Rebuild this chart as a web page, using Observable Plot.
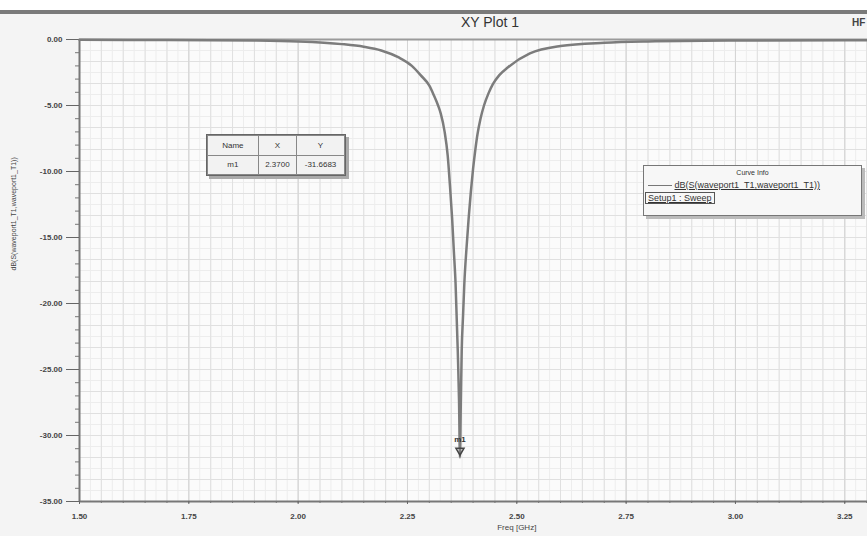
<!DOCTYPE html>
<html>
<head>
<meta charset="utf-8">
<script src="https://cdn.jsdelivr.net/npm/d3@7"></script>
<script src="https://cdn.jsdelivr.net/npm/@observablehq/plot@0.6"></script>
<style>
  html, body { margin: 0; padding: 0; background: #ffffff; }
  #wrap { position: relative; width: 867px; height: 536px; overflow: hidden; background: #f4f4f4; font-family: "Liberation Sans", Arial, sans-serif; }
  #topline { position: absolute; left: 0; top: 0; width: 867px; height: 10px; background: #ffffff; border-bottom: 4px solid #7a7a7a; }
  #title { position: absolute; left: 440px; top: 14px; width: 100px; text-align: center; font-size: 14px; color: #333; }
  #hf { position: absolute; left: 852px; top: 17px; font-size: 10px; font-weight: bold; color: #444; }
  .tbl { position: absolute; border: 1.5px solid #666; background: #f2f2f2; box-shadow: 3px 3px 0 #aaa; font-size: 8px; color: #333; }
  .tbl table { border-collapse: collapse; width: 100%; height: 100%; }
  .tbl td { border: 1px solid #888; text-align: center; padding: 0; }
  #plot { position: absolute; left: 0; top: 0; }
  #curve { position: absolute; left: 643px; top: 165px; width: 217px; height: 49px; border: 1.5px solid #777; background: #f7f7f7; box-shadow: 3px 3px 0 #bbb; font-size: 9px; color: #333; }
</style>
</head>
<body>
<div id="wrap">
  <div id="topline"></div>
  <div id="title">XY Plot 1</div>
  <div id="hf">HF</div>
  <div id="plot"></div>
  <div class="tbl" style="left:206px;top:134px;width:138px;height:40px;">
    <table>
      <tr><td style="width:37%">Name</td><td style="width:28%">X</td><td>Y</td></tr>
      <tr><td>m1</td><td>2.3700</td><td>-31.6683</td></tr>
    </table>
  </div>
  <div id="curve">
    <div style="text-align:center;margin-top:3px;font-size:7px;">Curve Info</div>
    <div style="margin-top:4px;margin-left:4px;white-space:nowrap;"><span style="display:inline-block;width:24px;border-top:1.5px solid #777;vertical-align:middle;"></span>&nbsp;<span style="text-decoration:underline;">dB(S(waveport1_T1,waveport1_T1))</span></div>
    <div style="margin-top:3px;margin-left:1px;white-space:nowrap;"><span style="border:1px solid #555;padding:0 2px;text-decoration:underline;">Setup1 : Sweep</span></div>
  </div>
</div>
<script>
// Data
const freq = [1.50, 1.70, 1.90, 2.00, 2.10, 2.15, 2.19, 2.23, 2.26, 2.28, 2.30, 2.31, 2.32, 2.326, 2.335, 2.342, 2.347, 2.352, 2.356, 2.360, 2.365, 2.368, 2.370, 2.372, 2.374, 2.377, 2.380, 2.385, 2.390, 2.395, 2.400, 2.405, 2.410, 2.417, 2.425, 2.435, 2.445, 2.46, 2.48, 2.53, 2.60, 2.70, 2.80, 3.00, 3.30];
const s11  = [-0.02, -0.04, -0.08, -0.15, -0.35, -0.55, -0.83, -1.36, -2.0, -2.7, -3.5, -4.2, -5.0, -5.6, -7.0, -8.8, -11.0, -13.5, -16.0, -18.5, -23.6, -27.5, -31.67, -27.5, -23.6, -21.0, -18.5, -15.8, -13.5, -11.5, -9.8, -8.4, -7.2, -6.0, -5.0, -4.1, -3.4, -2.7, -2.1, -1.06, -0.5, -0.25, -0.15, -0.08, -0.05];
const xTicks = [1.50, 1.75, 2.00, 2.25, 2.50, 2.75, 3.00, 3.25];
const yTicks = [0, -5, -10, -15, -20, -25, -30, -35];
const markerX = [2.37];
const markerY = [-31.67];
const markerName = ["m1"];
const yLabel = "dB(S(waveport1_T1,waveport1_T1))";
const xLabel = "Freq [GHz]";

const data = freq.map((f, i) => ({f, v: s11[i]}));
const xMax = 1.5 + 788 / 437.3;
const fineX = d3.range(1.5, 3.31, 0.025);
const midX = d3.range(1.5, 3.31, 0.05);
const fineY = d3.range(0, -35.01, -5 / 6);
const midY = d3.range(0, -35.01, -5 / 3);
const minorX = d3.range(1.5, 3.31, 0.05);
const minorY = d3.range(0, -35.01, -1);

const chart = Plot.plot({
  width: 867,
  height: 536,
  marginLeft: 79,
  marginTop: 39,
  marginBottom: 35,
  marginRight: 0,
  x: {domain: [1.5, xMax]},
  y: {domain: [-35, 0]},
  style: {background: "transparent", fontFamily: "Liberation Sans, Arial, sans-serif", fontSize: "8px", color: "#444"},
  marks: [
    Plot.frame({fill: "#fbfbfb", stroke: null}),
    Plot.gridX(fineX, {stroke: "#ededed", strokeOpacity: 1}),
    Plot.gridY(fineY, {stroke: "#ededed", strokeOpacity: 1}),
    Plot.gridX(midX, {stroke: "#e0e0e0", strokeOpacity: 1}),
    Plot.gridY(midY, {stroke: "#e0e0e0", strokeOpacity: 1}),
    Plot.gridX(xTicks, {stroke: "#d4d4d4", strokeOpacity: 1}),
    Plot.ruleY([0], {stroke: "#9a9a9a", strokeWidth: 2}),
    Plot.ruleX([1.5], {stroke: "#777", strokeWidth: 2}),
    Plot.ruleY([-35], {stroke: "#777", strokeWidth: 2}),
    Plot.axisY(minorY, {tickSize: 4, tickFormat: () => "", stroke: "#777", label: null}),
    Plot.axisY(yTicks, {tickSize: 13, tickPadding: 4, tickFormat: d => d.toFixed(2), fontWeight: "bold", stroke: "#666", label: null}),
    Plot.axisX(minorX, {tickSize: 2, tickFormat: () => "", stroke: "#777", label: null}),
    Plot.axisX(xTicks, {tickSize: 3, tickPadding: 9, tickFormat: d => d.toFixed(2), fontWeight: "bold", stroke: "#666", label: null}),
    Plot.line(data, {x: "f", y: "v", stroke: "#7c7c7c", strokeWidth: 2.5, curve: "monotone-x"}),
    Plot.text(markerName, {x: (d, i) => markerX[i], y: (d, i) => markerY[i], text: d => d, dy: -18, fontWeight: "bold", fill: "#333"}),
    Plot.dot(markerName, {x: (d, i) => markerX[i], y: (d, i) => markerY[i], symbol: "triangle", r: 3, rotate: 180, fill: "none", stroke: "#444", dy: -7}),
    Plot.text([yLabel], {frameAnchor: "left", dx: -66, rotate: -90, text: d => d, fontSize: 7, fill: "#444"}),
    Plot.text([xLabel], {x: () => 2.5, frameAnchor: "bottom", dy: 28, text: d => d, fontSize: 8, fill: "#444"})
  ]
});
document.getElementById("plot").appendChild(chart);
</script>
</body>
</html>
